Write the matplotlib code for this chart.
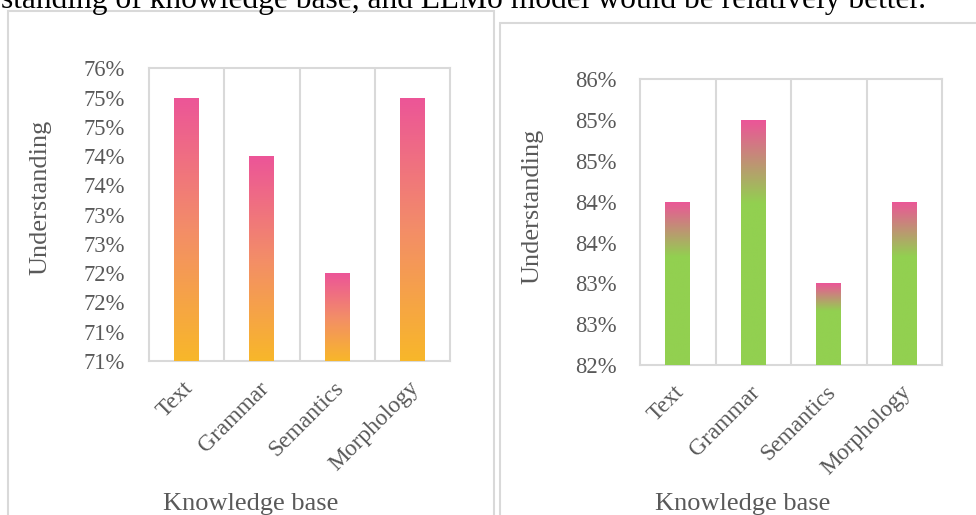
import math
import matplotlib
matplotlib.use("Agg")
import matplotlib.pyplot as plt
import matplotlib.patches as mpatches
from matplotlib.colors import LinearSegmentedColormap
from matplotlib.ticker import FuncFormatter, MultipleLocator
from matplotlib.transforms import ScaledTranslation
import numpy as np

# ── data ─────────────────────────────────────────────────────────────────────
CATEGORIES = ["Text", "Grammar", "Semantics", "Morphology"]
LEFT_VALUES = [75.0, 74.0, 72.0, 75.0]      # understanding, %
RIGHT_VALUES = [84.0, 85.0, 83.0, 84.0]     # understanding, %
LEFT_RANGE = (70.5, 75.5)
RIGHT_RANGE = (82.0, 85.5)
Y_STEP = 0.5
Y_TITLE = "Understanding"
X_TITLE = "Knowledge base"
HEADER = "standing of knowledge base, and ELMo model would be relatively better."

# ── style ────────────────────────────────────────────────────────────────────
SERIF = ["Liberation Serif", "DejaVu Serif"]
TXT = "#595959"
FRAME = "#D9D9D9"
W, H = 976, 515

LEFT_CMAP = LinearSegmentedColormap.from_list(
    "orange_pink", [(0.0, "#F8B72A"), (0.5, "#F38D68"), (1.0, "#EC5598")])
RIGHT_CMAP = LinearSegmentedColormap.from_list(
    "green_pink", [(0.0, "#92D050"), (0.66, "#92D050"), (1.0, "#EC5598")])

plt.rcParams["font.family"] = SERIF

fig = plt.figure(figsize=(W / 100, H / 100), dpi=100)


def px_box(x0, y0, x1, y1):
    """pixel box (top-left origin) -> figure fraction rect"""
    return [x0 / W, 1 - y1 / H, (x1 - x0) / W, (y1 - y0) / H]


def pct(v, _pos):
    # Excel-style rounding: halves go up
    return f"{int(math.floor(v + 0.5 + 1e-9))}%"


# chart-area frames
for x0, y0, x1 in [(7.5, 11, 494), (500, 23, 990)]:
    fig.add_artist(mpatches.Rectangle(
        (x0 / W, -0.1), (x1 - x0) / W, 1.1 - y0 / H,
        transform=fig.transFigure, fill=False, edgecolor=FRAME, linewidth=1.5))

# header line from the surrounding text, cut by the top edge
fig.text(926 / W, 1 - 8 / H, HEADER, ha="right", va="baseline",
         fontsize=22.7, color="black")


def draw_panel(rect, values, yrange, cmap, tick_right_px, ylab_xy, xlab_x):
    ax = fig.add_axes(rect)
    x = np.arange(len(values))
    ymin, ymax = yrange
    bars = ax.bar(x, np.array(values) - ymin, bottom=ymin, width=0.33,
                  facecolor="none", edgecolor="none", zorder=3)

    # vertical gradient inside each bar
    grad = np.linspace(0, 1, 256).reshape(-1, 1)
    for b in bars:
        x0, y0 = b.get_x(), b.get_y()
        im = ax.imshow(grad, cmap=cmap, origin="lower", aspect="auto",
                       extent=[x0, x0 + b.get_width(), y0, y0 + b.get_height()],
                       zorder=3, interpolation="bilinear")
        im.set_clip_path(b)

    ax.set_xlim(-0.5, len(values) - 0.5)
    ax.set_ylim(ymin, ymax)
    ax.yaxis.set_major_locator(MultipleLocator(Y_STEP))
    ax.yaxis.set_major_formatter(FuncFormatter(pct))

    # category separators
    for gx in x[:-1] + 0.5:
        ax.axvline(gx, color=FRAME, linewidth=1.5, zorder=1)
    for s in ax.spines.values():
        s.set_color(FRAME)
        s.set_linewidth(1.5)

    pad_px = rect[0] * W - tick_right_px
    ax.tick_params(axis="y", length=0, pad=pad_px * 0.72, labelsize=16.3,
                   labelcolor=TXT)
    ax.set_xticks(x)
    ax.set_xticklabels(CATEGORIES, rotation=45, ha="right", va="top",
                       rotation_mode="anchor", fontsize=16.8, color=TXT)
    ax.tick_params(axis="x", length=0, pad=12)
    shift = ScaledTranslation(-4 / 100, 0, fig.dpi_scale_trans)
    for lab in ax.get_xticklabels():
        lab.set_transform(lab.get_transform() + shift)

    fig.text(ylab_xy[0] / W, 1 - ylab_xy[1] / H, Y_TITLE, rotation=90,
             ha="center", va="center", fontsize=19, color=TXT)
    fig.text(xlab_x / W, 1 - 510 / H, X_TITLE, ha="center", va="baseline",
             fontsize=19, color=TXT)
    return ax


draw_panel(px_box(149, 68.3, 450, 361), LEFT_VALUES, LEFT_RANGE, LEFT_CMAP,
           125, (40, 197), 251)
draw_panel(px_box(640, 79.3, 942, 365), RIGHT_VALUES, RIGHT_RANGE, RIGHT_CMAP,
           617, (532, 206), 743)

fig.savefig("out.png", dpi=100)
